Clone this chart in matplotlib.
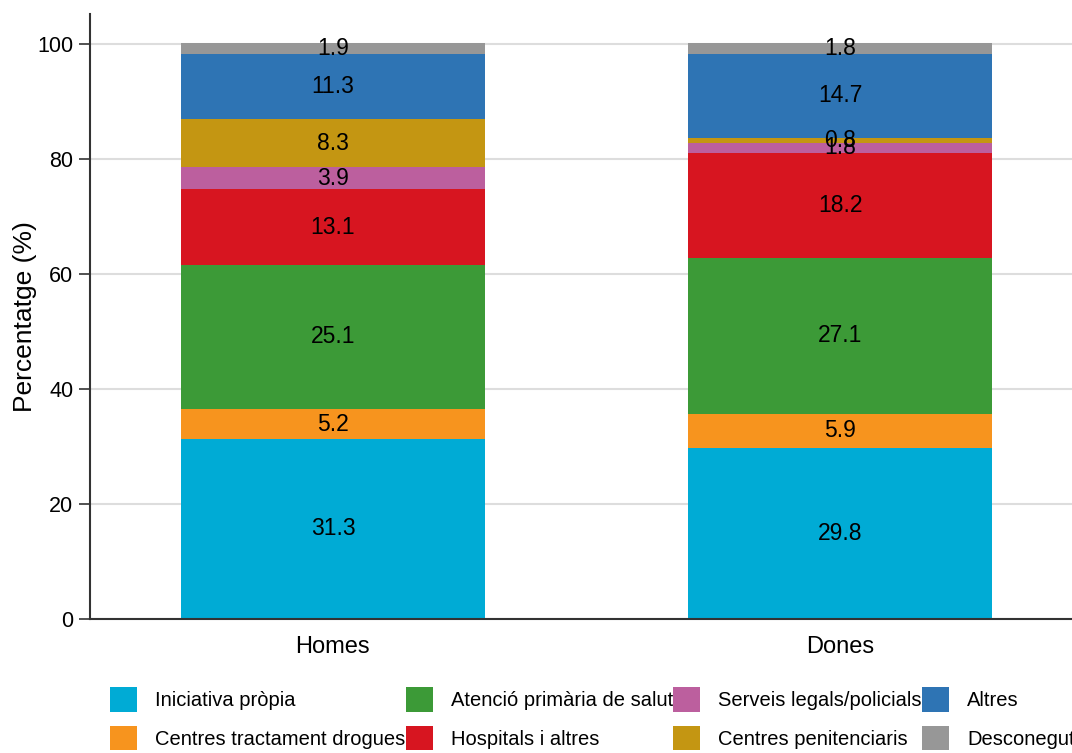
import matplotlib
matplotlib.use("Agg")
import matplotlib.pyplot as plt
import numpy as np

plt.rcParams['font.family'] = ['Liberation Sans', 'DejaVu Sans']

groups = ["Homes", "Dones"]
categories = ["Iniciativa pròpia", "Centres tractament drogues", "Atenció primària de salut",
              "Hospitals i altres", "Serveis legals/policials", "Centres penitenciaris",
              "Altres", "Desconegut"]
homes = [31.3, 5.2, 25.1, 13.1, 3.9, 8.3, 11.3, 1.9]
dones = [29.8, 5.9, 27.1, 18.2, 1.8, 0.8, 14.7, 1.8]
colors = ["#00ABD5", "#F7941E", "#3C9A37", "#D71520", "#BC5F9E", "#C49612", "#2E74B4", "#979797"]
yticks = [0, 20, 40, 60, 80, 100]

fig = plt.figure(figsize=(10.72, 7.53), dpi=100)
ax = fig.add_axes([90/1072, 134/753, 993/1072, 605/753])

x = np.arange(len(groups))
data = np.array([homes, dones]).T
bottom = np.zeros(len(groups))
handles = []
for vals, lab, col in zip(data, categories, colors):
    b = ax.bar(x, vals, 0.6, bottom=bottom, color=col, label=lab, zorder=2)
    handles.append(b)
    for xi, v, bt in zip(x, vals, bottom):
        ax.text(xi, bt + v / 2, f"{v:.1f}", ha="center", va="center", fontsize=16.5, color="black", zorder=3)
    bottom = bottom + vals

ax.set_xlim(-0.479, 1.479)
ax.set_ylim(0, 105.2)
ax.set_yticks(yticks)
ax.set_xticks(x)
ax.set_xticklabels(groups, fontsize=17)
ax.tick_params(axis="x", length=0, pad=12)
ax.tick_params(axis="y", labelsize=15.5, length=8, width=1.2, color="#333333", pad=4)
ax.set_ylabel("Percentatge (%)", fontsize=19, labelpad=0)
ax.yaxis.grid(True, color="#dddddd", linewidth=1.5, zorder=0)
ax.set_axisbelow(True)
for s in ["top", "right"]:
    ax.spines[s].set_visible(False)
for s in ["left", "bottom"]:
    ax.spines[s].set_linewidth(1.5)
    ax.spines[s].set_color("#333333")

leg = fig.legend(handles=handles, labels=categories, ncol=4, loc="upper left",
                 bbox_to_anchor=(110/1072, 1 - 687/753), frameon=False, fontsize=14.5,
                 handlelength=1.35, handleheight=1.5, handletextpad=0.9,
                 columnspacing=0.0, labelspacing=0.7, borderpad=0, borderaxespad=0)

fig.savefig("out.png", dpi=100)
